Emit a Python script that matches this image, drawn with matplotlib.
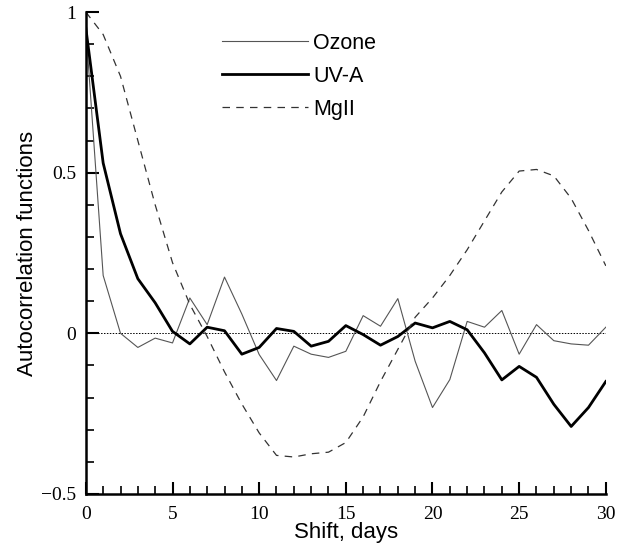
import numpy as np
import matplotlib
matplotlib.use('Agg')
import matplotlib.pyplot as plt
from matplotlib.ticker import MultipleLocator, FixedLocator

days = list(range(0, 31))

ozone = [0.95, 0.18, 0.00, -0.044, -0.015, -0.03, 0.11, 0.027, 0.175, 0.06,
         -0.066, -0.147, -0.04, -0.065, -0.075, -0.056, 0.055, 0.022, 0.108, -0.087,
         -0.231, -0.144, 0.037, 0.019, 0.071, -0.065, 0.027, -0.023, -0.033, -0.037,
         0.019]

uva = [0.95, 0.53, 0.31, 0.17, 0.095, 0.006, -0.033, 0.019, 0.008, -0.065,
       -0.044, 0.015, 0.006, -0.04, -0.025, 0.024, -0.004, -0.037, -0.01, 0.032,
       0.017, 0.037, 0.011, -0.061, -0.145, -0.103, -0.137, -0.221, -0.29, -0.231,
       -0.15]

mg2 = [1.0, 0.93, 0.80, 0.60, 0.40, 0.22, 0.09, -0.01, -0.12, -0.22,
       -0.31, -0.38, -0.385, -0.375, -0.37, -0.34, -0.26, -0.15, -0.05, 0.05,
       0.11, 0.18, 0.26, 0.35, 0.44, 0.505, 0.51, 0.49, 0.42, 0.32,
       0.21]

fig = plt.figure(figsize=(6.22, 5.47), dpi=100)
ax = fig.add_axes([0.138, 0.097, 0.836, 0.881])

ax.axhline(0, color='black', lw=0.7, ls=(0, (1.5, 1.5)))
ax.plot(days, ozone, color='#555555', lw=0.8, label='Ozone')
ax.plot(days, uva, color='black', lw=2.0, label='UV-A')
ax.plot(days, mg2, color='#333333', lw=0.9, ls=(0, (6, 5)), label='MgII')

ax.set_xlim(0, 30)
ax.set_ylim(-0.5, 1)
for s in ['top', 'right']:
    ax.spines[s].set_visible(False)
for s in ['left', 'bottom']:
    ax.spines[s].set_linewidth(1.8)

ax.xaxis.set_major_locator(MultipleLocator(5))
ax.xaxis.set_minor_locator(MultipleLocator(1))
ax.yaxis.set_major_locator(FixedLocator([-0.5, 0, 0.5, 1]))
ax.yaxis.set_minor_locator(MultipleLocator(0.1))
ax.set_yticklabels(['\u22120.5', '0', '0.5', '1'])
ax.tick_params(which='major', direction='in', length=9, width=1.5, labelsize=14)
ax.tick_params(which='minor', direction='in', length=6, width=1.2)
ax.tick_params(axis='x', pad=9)
ax.tick_params(axis='y', pad=7)
for lab in ax.get_xticklabels() + ax.get_yticklabels():
    lab.set_fontfamily('Liberation Serif')

ax.set_xlabel('Shift, days', fontsize=16, family='Liberation Sans', labelpad=-1)
ax.set_ylabel('Autocorrelation functions', fontsize=16, family='Liberation Sans', labelpad=2)

leg = ax.legend(loc='upper left', bbox_to_anchor=(0.2615, 0.957), frameon=False,
                borderaxespad=0, borderpad=0,
                handlelength=4.0, handletextpad=0.25, labelspacing=0.56,
                prop={'family': 'Liberation Sans', 'size': 15.5})

fig.savefig('out.png', dpi=100)
